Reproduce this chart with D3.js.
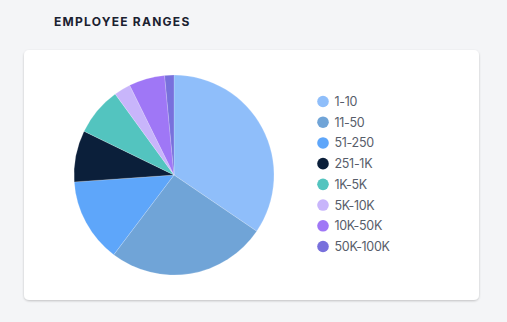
<!DOCTYPE html>
<html>
<head>
<meta charset="utf-8">
<script src="https://cdn.jsdelivr.net/npm/d3@7/dist/d3.min.js"></script>
<style>
  html, body { margin: 0; padding: 0; background: #f4f5f7; }
  body { width: 507px; height: 322px; overflow: hidden; }
</style>
</head>
<body>
<svg id="chart" width="507" height="322"></svg>
<script>
// Employee range buckets and their share (%) of companies
const categories = ["1-10", "11-50", "51-250", "251-1K", "1K-5K", "5K-10K", "10K-50K", "50K-100K"];
const values = [34.5, 25.8, 13.6, 8.3, 7.8, 2.7, 5.8, 1.5];
const colors = ["#8fbefa", "#70a4d7", "#5ea6fa", "#0b1f3a", "#53c4bf", "#c8b5fb", "#9f77f6", "#7870dc"];

const svg = d3.select("#chart");

const defs = svg.append("defs");
const shadow = defs.append("filter").attr("id", "cardShadow")
  .attr("x", "-5%").attr("y", "-5%").attr("width", "110%").attr("height", "115%");
shadow.append("feDropShadow").attr("dx", 0).attr("dy", 1).attr("stdDeviation", 1.2)
  .attr("flood-color", "#000").attr("flood-opacity", 0.22);

// Section heading
svg.append("text")
  .attr("x", 54).attr("y", 26)
  .attr("font-family", "Inter, 'Open Sans', sans-serif")
  .attr("font-size", 12).attr("font-weight", 700)
  .attr("letter-spacing", 1.25)
  .attr("fill", "#1b2130")
  .text("EMPLOYEE RANGES");

// Card
svg.append("rect")
  .attr("x", 24).attr("y", 50).attr("width", 455).attr("height", 250)
  .attr("rx", 5).attr("fill", "#fff")
  .attr("filter", "url(#cardShadow)");

// Pie
const cx = 174, cy = 175, radius = 100;
const color = d3.scaleOrdinal().domain(categories).range(colors);
const pie = d3.pie().sort(null).value(d => d.value);
const arc = d3.arc().innerRadius(0).outerRadius(radius);
const data = categories.map((c, i) => ({ key: c, value: values[i] }));

svg.append("g").attr("transform", `translate(${cx},${cy})`)
  .selectAll("path").data(pie(data)).join("path")
  .attr("d", arc)
  .attr("fill", d => color(d.data.key))
  .attr("stroke", "#ffffff").attr("stroke-width", 0.3).attr("stroke-opacity", 0.6);

// Legend
const legendY = d3.scalePoint().domain(categories).range([101.5, 246.5]);
const legend = svg.append("g").selectAll("g").data(categories).join("g")
  .attr("transform", d => `translate(323,${legendY(d)})`);
legend.append("circle").attr("r", 5.8).attr("fill", d => color(d));
legend.append("text")
  .attr("x", 11.5).attr("dy", "0.36em")
  .attr("font-family", "Inter, 'Open Sans', sans-serif")
  .attr("font-size", 12.5)
  .attr("letter-spacing", -0.3)
  .attr("fill", "#575d6a")
  .text(d => d);
</script>
</body>
</html>
